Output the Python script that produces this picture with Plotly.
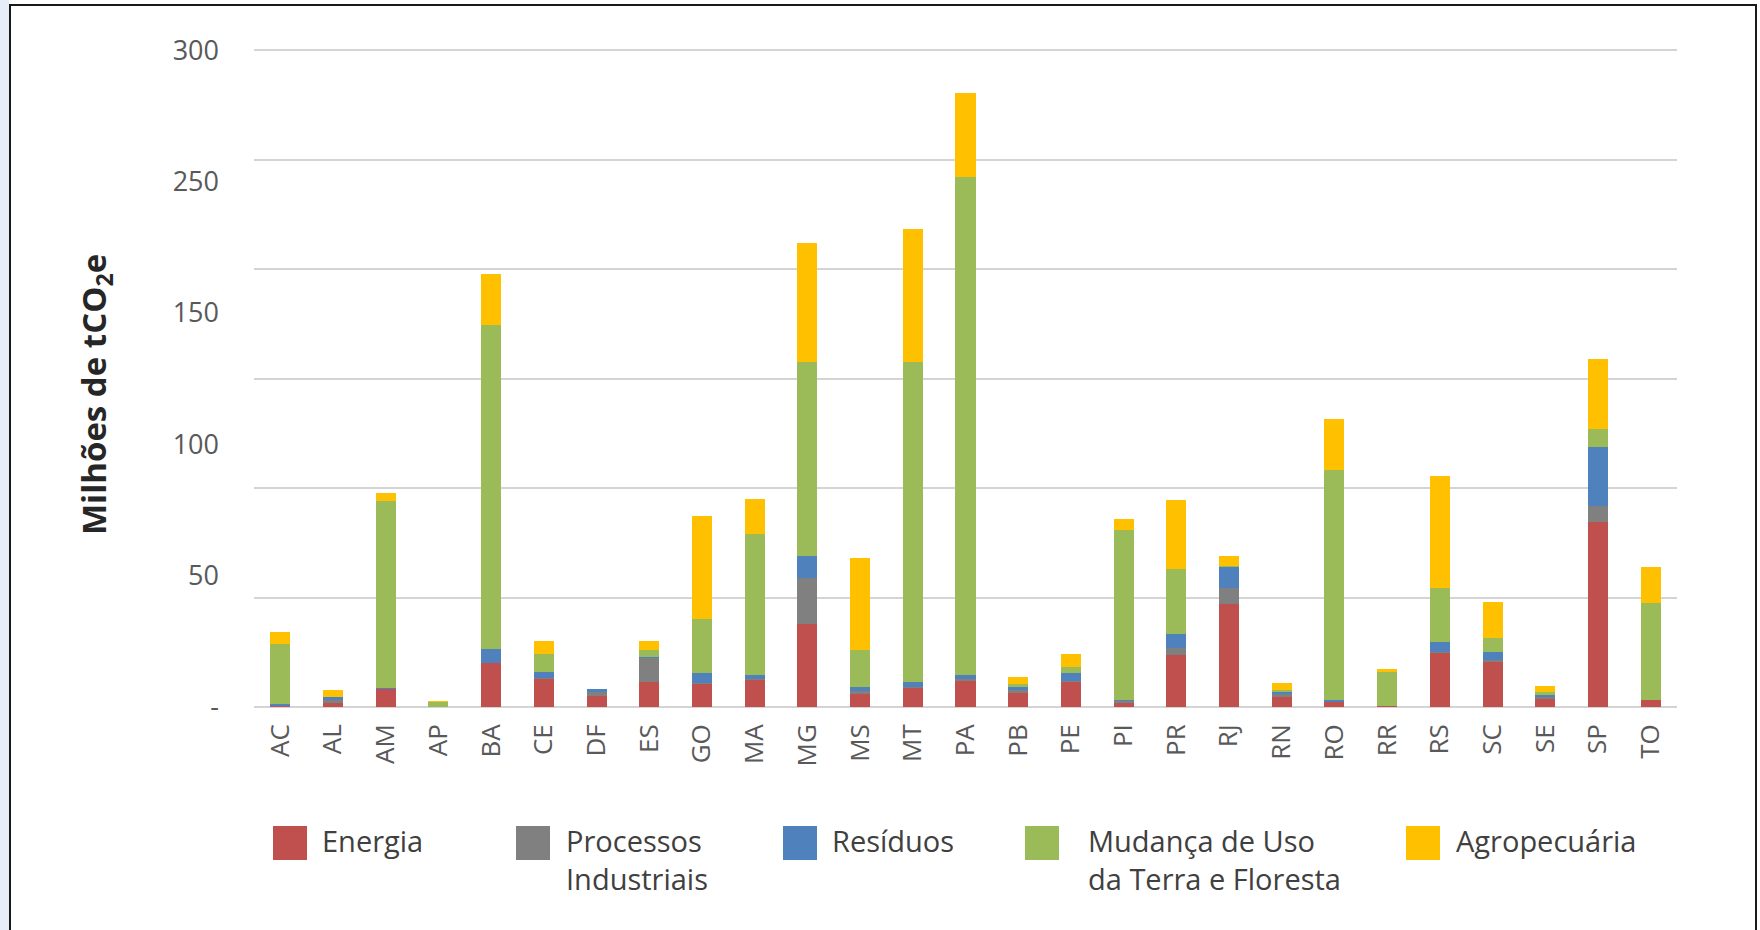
import plotly.graph_objects as go

# ---------------- data ----------------
states = ["AC", "AL", "AM", "AP", "BA", "CE", "DF", "ES", "GO", "MA", "MG", "MS", "MT", "PA",
          "PB", "PE", "PI", "PR", "RJ", "RN", "RO", "RR", "RS", "SC", "SE", "SP", "TO"]

energia = [0.5, 1.8, 8.5, 0.2, 20.2, 12.8, 5.0, 11.3, 10.8, 12.6, 37.9, 6.3, 9.1, 12.3,
           6.5, 11.6, 2.1, 23.7, 47.0, 4.6, 2.5, 0.3, 24.8, 21.0, 3.5, 84.3, 3.2]
processos = [0.0, 1.2, 0.0, 0.0, 0.0, 0.3, 2.0, 11.4, 0.3, 0.2, 21.1, 0.8, 0.2, 0.5,
             1.2, 0.5, 0.8, 3.1, 7.2, 1.2, 0.2, 0.0, 0.3, 0.5, 1.2, 7.6, 0.0]
residuos = [0.7, 1.5, 0.3, 0.0, 6.1, 3.0, 1.4, 0.3, 4.3, 2.0, 10.0, 2.2, 2.3, 2.0,
            1.3, 3.6, 0.5, 6.4, 9.9, 1.5, 0.5, 0.0, 4.7, 3.5, 1.0, 27.0, 0.2]
mudanca_uso = [27.6, 0.0, 85.4, 2.2, 148.1, 8.0, 0.0, 3.0, 24.6, 64.4, 88.6, 16.9, 146.0, 227.4,
               1.5, 2.7, 77.4, 29.8, 0.3, 0.6, 105.0, 15.8, 24.4, 6.4, 1.1, 8.0, 44.2]
agropecuaria = [5.6, 3.4, 3.4, 0.3, 23.3, 6.2, 0.0, 4.3, 47.3, 16.0, 54.2, 41.7, 60.9, 38.3,
                3.1, 5.8, 5.0, 31.5, 4.5, 2.9, 23.6, 1.3, 51.4, 16.4, 3.0, 32.0, 16.5]

series_names = ["Energia", "Processos<br>Industriais", "Resíduos",
                "Mudança de Uso<br>da Terra e Floresta", "Agropecuária"]
series_values = [energia, processos, residuos, mudanca_uso, agropecuaria]
series_colors = ["#C0504D", "#808080", "#4F81BD", "#9BBB59", "#FFC000"]

grid_ticks = [0, 50, 100, 150, 200, 250, 300]
label_ticks = [0, 60, 120, 180, 240, 300]
label_text = ["-", "50", "100", "150", "250", "300"]
y_title = "<b>Milhões de tCO<sub>2</sub>e</b>"

# ---------------- layout geometry (pixels) ----------------
W, H = 1760, 930
PL, PR_, PT, PB = 254, 83, 49, 223
plot_w = W - PL - PR_
plot_h = H - PT - PB
Y_MAX = 300.6


def px_x(px):
    return (px - PL) / plot_w


def px_y(py):
    return (H - PB - py) / plot_h


FONT = "Open Sans, Noto Sans, DejaVu Sans, sans-serif"

fig = go.Figure()
for name, vals, col in zip(series_names, series_values, series_colors):
    fig.add_trace(go.Bar(
        x=states, y=vals, name=name.replace("<br>", " "),
        marker=dict(color=col, line=dict(width=0)),
        showlegend=False,
    ))

# hidden helper trace so the label axis is drawn
fig.add_trace(go.Scatter(x=[states[0]], y=[0], yaxis="y2", mode="markers",
                         marker=dict(opacity=0, size=1), showlegend=False, hoverinfo="skip"))

shapes = []
annotations = []

# left light-blue strip and outer frame
shapes.append(dict(type="rect", xref="paper", yref="paper",
                   x0=px_x(0), x1=px_x(9), y0=px_y(935), y1=px_y(0),
                   fillcolor="#E6EFF7", line=dict(width=0), layer="below"))
shapes.append(dict(type="rect", xref="paper", yref="paper",
                   x0=px_x(10), x1=px_x(1756), y0=px_y(940), y1=px_y(5),
                   fillcolor="rgba(0,0,0,0)", line=dict(color="#1a1a1a", width=2)))

# custom legend
sw_left = [273, 516, 783, 1025, 1406]
txt_left = [320, 564, 830, 1086, 1454]
for name, col, sx, tx in zip(series_names, series_colors, sw_left, txt_left):
    shapes.append(dict(type="rect", xref="paper", yref="paper",
                       x0=px_x(sx), x1=px_x(sx + 34), y0=px_y(860), y1=px_y(826),
                       fillcolor=col, line=dict(width=0)))
    annotations.append(dict(xref="paper", yref="paper", x=px_x(tx), y=px_y(819),
                            xanchor="left", yanchor="top", align="left", showarrow=False,
                            text=name, font=dict(family=FONT, size=29, color="#404040")))

# y axis title
annotations.append(dict(xref="paper", yref="paper", x=px_x(95), y=px_y(395),
                        xanchor="center", yanchor="middle", textangle=-90, showarrow=False,
                        text=y_title, font=dict(family=FONT, size=33, color="#262626")))

fig.update_layout(
    width=W, height=H,
    margin=dict(l=PL, r=PR_, t=PT, b=PB, autoexpand=False),
    paper_bgcolor="white", plot_bgcolor="white",
    barmode="stack", bargap=0.62,
    font=dict(family=FONT, color="#595959"),
    xaxis=dict(
        type="category", tickangle=-90, range=[-0.5, len(states) - 0.5],
        tickfont=dict(family=FONT, size=26, color="#595959"),
        showgrid=False, showline=False, ticks="", ticklabelstandoff=11,
        zeroline=False,
    ),
    yaxis=dict(
        range=[0, Y_MAX], tickvals=grid_ticks, showticklabels=False,
        showgrid=True, gridcolor="#D4D4D4", gridwidth=2,
        zeroline=True, zerolinecolor="#D4D4D4", zerolinewidth=2,
        showline=False, ticks="",
    ),
    yaxis2=dict(
        overlaying="y", side="left", anchor="x",
        range=[0, Y_MAX], tickvals=label_ticks, ticktext=label_text,
        showgrid=False, zeroline=False, showline=False, ticks="",
        tickfont=dict(family=FONT, size=27, color="#595959"),
        ticklabelstandoff=34,
    ),
    shapes=shapes,
    annotations=annotations,
)

fig.write_html("out.html", config={"displayModeBar": False},
               post_script="document.body.style.margin='0';document.body.style.overflow='hidden';")
